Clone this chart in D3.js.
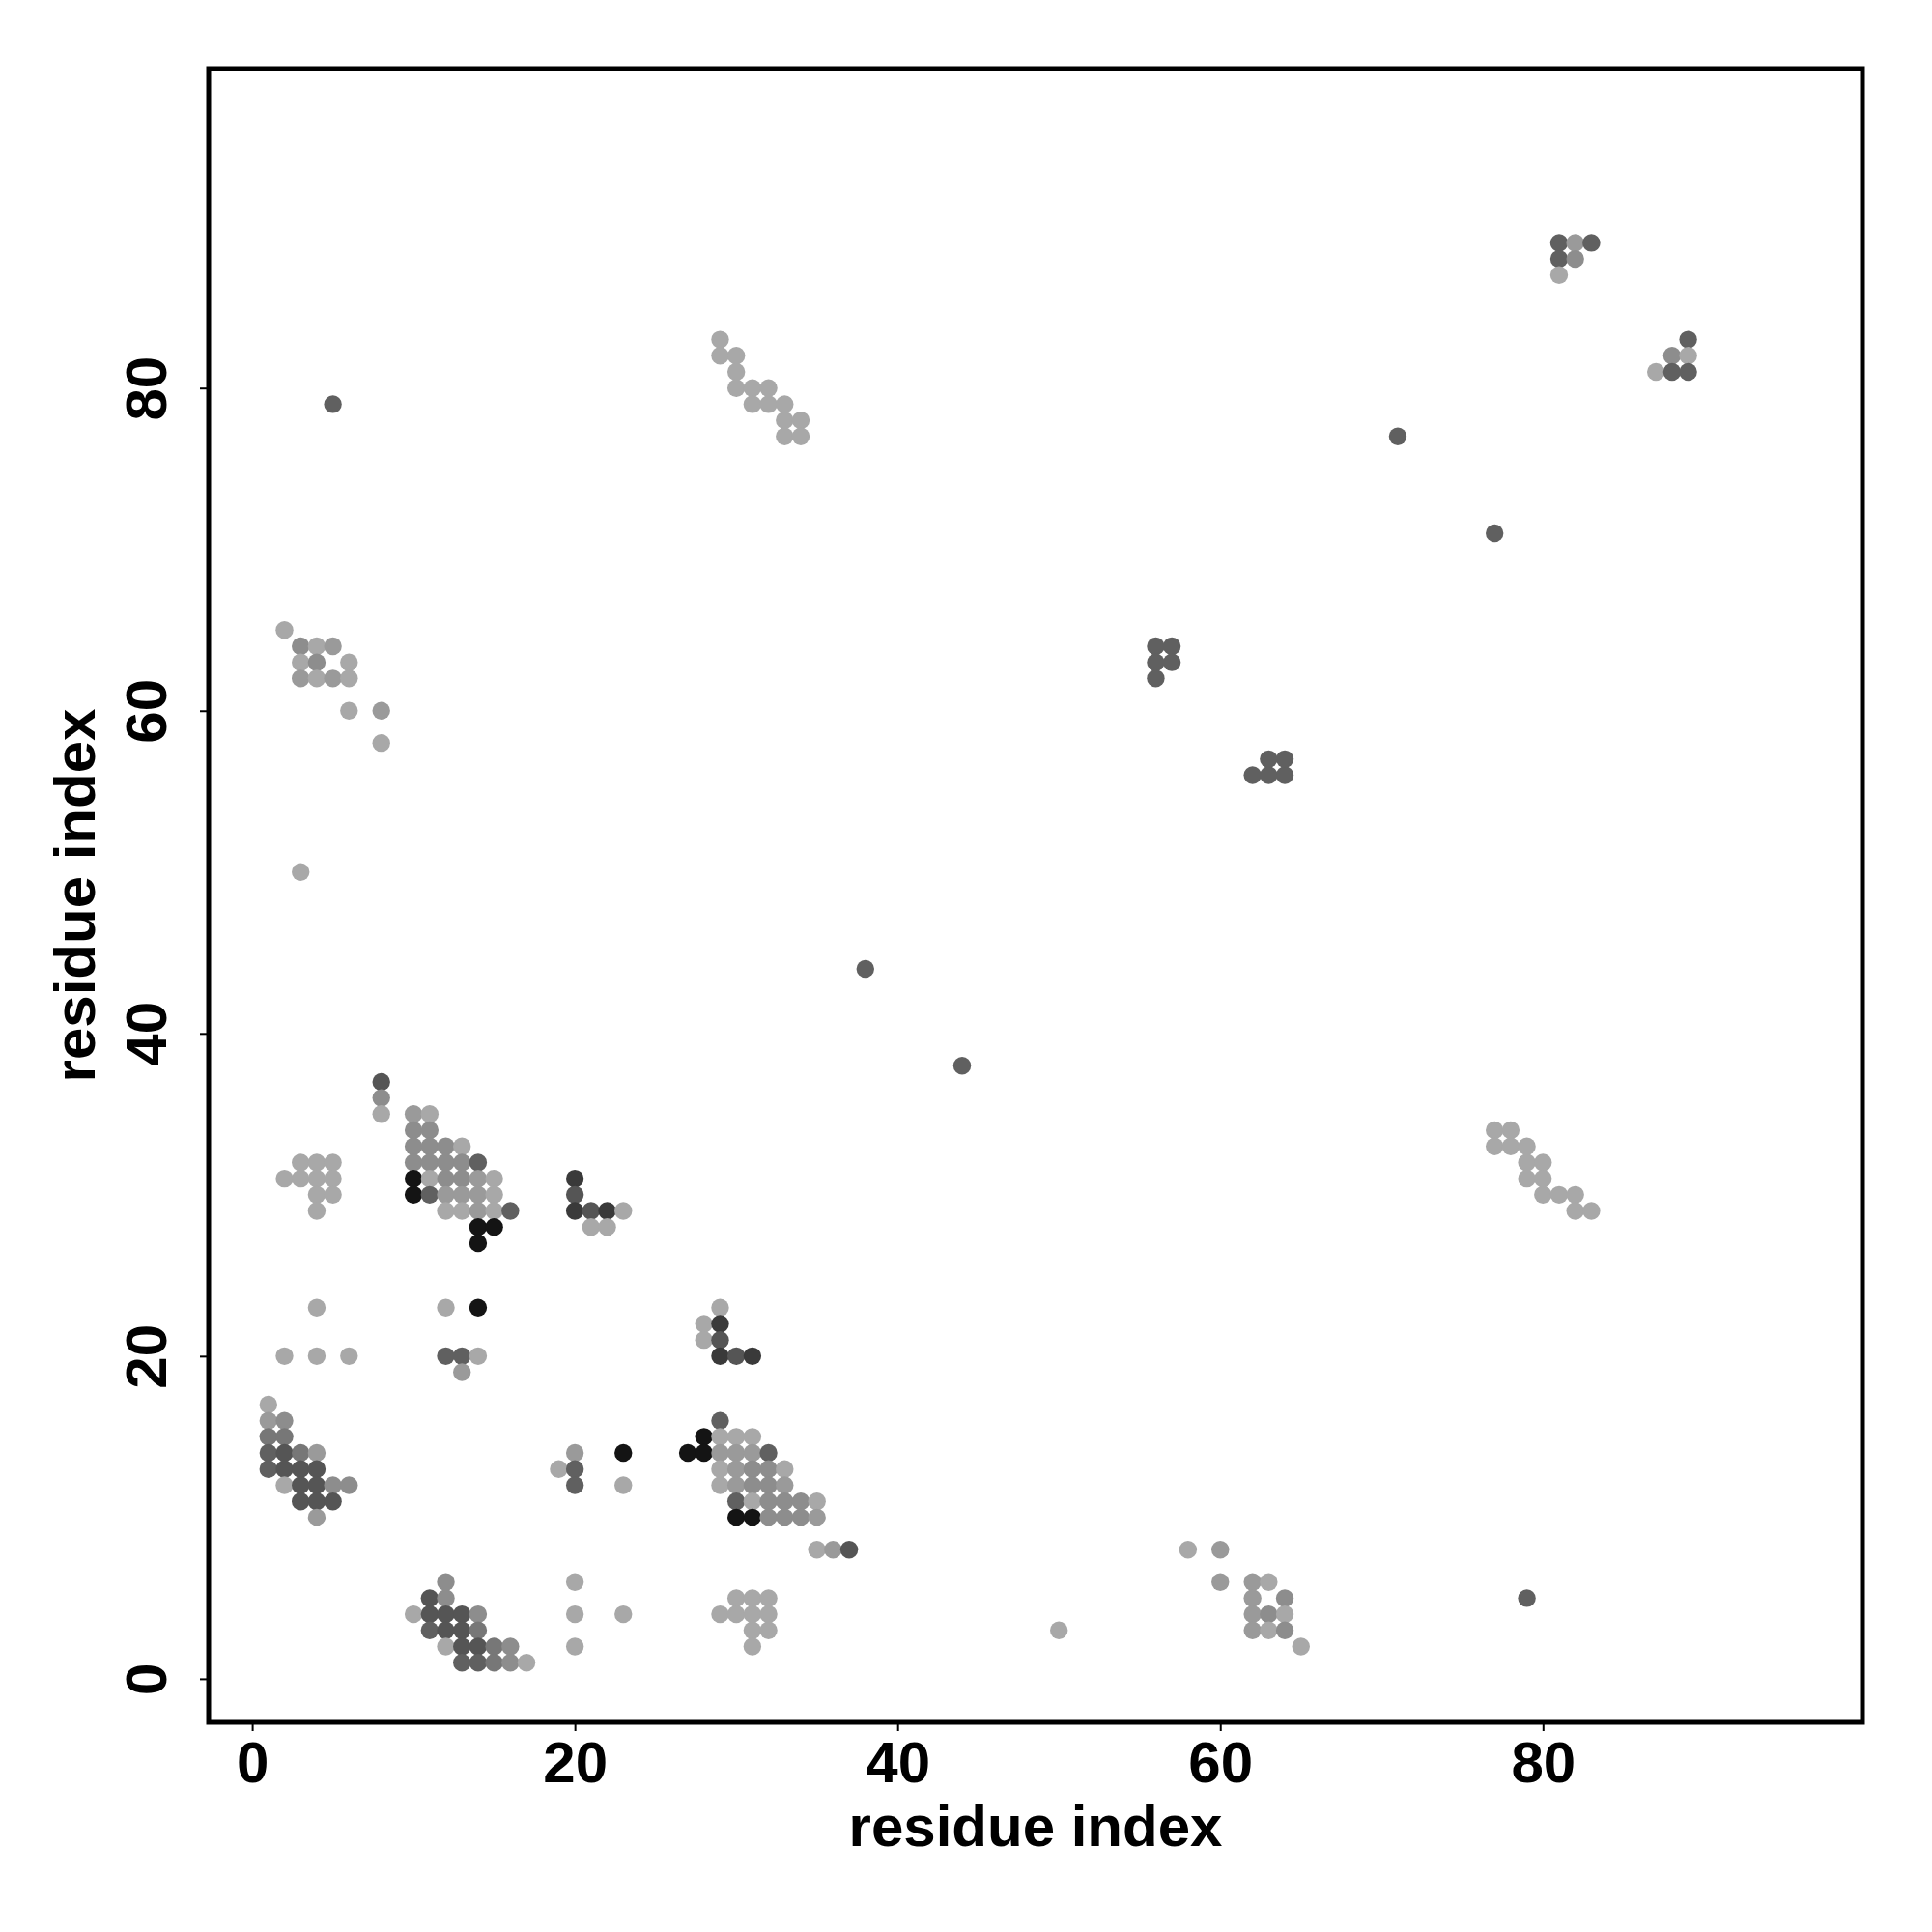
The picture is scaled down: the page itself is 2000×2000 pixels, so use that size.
<!DOCTYPE html>
<html lang="en">
<head>
  <meta charset="UTF-8">
  <title>Contact map</title>
  <style>
  body {
    margin: 0;
    background: white;
  }
  svg text {
    font-family: "Liberation Sans", Arial, Helvetica, sans-serif;
    font-weight: bold;
    fill: black;
  }
  </style>
</head>
<body>
  <script src="https://d3js.org/d3.v7.min.js"></script>
  <script>

  // contact positions (residue i, residue j) and how many times each was seen
  var contactX = [
    1, 1, 2, 1, 2, 1, 2, 3, 4, 1, 2, 3, 4, 2, 3, 4, 5, 6, 3, 4, 5, 4,
    12, 11, 12, 10, 11, 12, 13, 14, 11, 12, 13, 14, 12, 13, 14, 15, 16, 13, 14, 15, 16, 17,
    20, 19, 20, 20, 23, 23, 29, 28, 29, 30, 31, 27, 28, 29, 30, 31, 32,
    29, 30, 31, 32, 33, 29, 30, 31, 32, 33, 30, 31, 32, 33, 34, 35, 30, 31, 32, 33, 34, 35,
    35, 36, 37, 20, 30, 31, 32, 20, 23, 29, 30, 31, 32, 31, 32, 20, 31,
    8, 8, 8, 10, 11, 10, 11, 10, 11, 12, 13,
    3, 4, 5, 10, 11, 12, 13, 14,
    2, 3, 4, 5, 10, 11, 12, 13, 14, 15,
    4, 5, 10, 11, 12, 13, 14, 15,
    4, 12, 13, 14, 15, 16, 14, 15, 14,
    4, 12, 14, 2, 4, 6, 12, 13, 14, 13,
    20, 20, 20, 21, 22, 23, 21, 22, 29, 28, 29, 28, 29, 29, 30, 31,
    2, 3, 4, 5, 3, 4, 6, 3, 4, 5, 6, 6, 8, 8, 3,
    29, 29, 30, 30, 30, 31, 32, 31, 32, 33, 33, 34, 33, 34,
    77, 78, 77, 78, 79, 79, 80, 79, 80, 80, 81, 82, 82, 83,
    81, 82, 83, 81, 82, 81, 89, 88, 89, 87, 88, 89,
    58, 60, 60, 62, 63, 62, 64, 62, 63, 64, 62, 63, 64, 65,
    56, 57, 56, 57, 56, 62, 63, 64, 63, 64,
    5, 38, 44, 71, 77, 79, 50
  ];
  var contactY = [
    17, 16, 16, 15, 15, 14, 14, 14, 14, 13, 13, 13, 13, 12, 12, 12, 12, 12, 11, 11, 11, 10,
    6, 5, 5, 4, 4, 4, 4, 4, 3, 3, 3, 3, 2, 2, 2, 2, 2, 1, 1, 1, 1, 1,
    14, 13, 13, 12, 14, 12, 16, 15, 15, 15, 15, 14, 14, 14, 14, 14, 14,
    13, 13, 13, 13, 13, 12, 12, 12, 12, 12, 11, 11, 11, 11, 11, 11, 10, 10, 10, 10, 10, 10,
    8, 8, 8, 6, 5, 5, 5, 4, 4, 4, 4, 4, 4, 3, 3, 2, 2,
    37, 36, 35, 35, 35, 34, 34, 33, 33, 33, 33,
    32, 32, 32, 32, 32, 32, 32, 32,
    31, 31, 31, 31, 31, 31, 31, 31, 31, 31,
    30, 30, 30, 30, 30, 30, 30, 30,
    29, 29, 29, 29, 29, 29, 28, 28, 27,
    23, 23, 23, 20, 20, 20, 20, 20, 20, 19,
    31, 30, 29, 29, 29, 29, 28, 28, 23, 22, 22, 21, 21, 20, 20, 20,
    65, 64, 64, 64, 63, 63, 63, 62, 62, 62, 62, 60, 60, 58, 50,
    83, 82, 82, 81, 80, 80, 80, 79, 79, 79, 78, 78, 77, 77,
    34, 34, 33, 33, 33, 32, 32, 31, 31, 30, 30, 30, 29, 29,
    89, 89, 89, 88, 88, 87, 83, 82, 82, 81, 81, 81,
    8, 8, 6, 6, 6, 5, 5, 4, 4, 4, 3, 3, 3, 2,
    64, 64, 63, 63, 62, 56, 56, 56, 57, 57,
    79, 44, 38, 77, 71, 5, 3
  ];
  var contactCount = [
    1, 2, 3, 4, 4, 5, 6, 4, 2, 5, 6, 6, 6, 1, 6, 6, 3, 3, 6, 6, 6, 2,
    3, 6, 3, 1, 6, 6, 6, 3, 5, 6, 6, 4, 1, 6, 6, 4, 3, 5, 5, 4, 3, 1,
    2, 1, 5, 5, 8, 1, 5, 8, 1, 1, 1, 8, 8, 2, 2, 2, 5,
    1, 2, 3, 3, 1, 1, 2, 3, 3, 2, 5, 1, 3, 3, 3, 1, 8, 8, 3, 3, 3, 2,
    1, 2, 6, 1, 1, 1, 1, 1, 1, 1, 1, 1, 1, 1, 1, 1, 1,
    6, 3, 1, 2, 1, 3, 3, 3, 3, 3, 1,
    1, 1, 1, 3, 3, 3, 3, 5,
    1, 1, 1, 1, 8, 1, 3, 3, 2, 1,
    1, 1, 8, 5, 2, 2, 2, 1,
    1, 1, 1, 2, 1, 5, 8, 8, 8,
    1, 1, 8, 1, 1, 1, 5, 5, 1, 2,
    7, 6, 7, 6, 7, 1, 1, 1, 1, 1, 7, 1, 6, 7, 6, 7,
    1, 3, 1, 2, 1, 3, 1, 2, 1, 2, 1, 1, 2, 1, 1,
    1, 1, 1, 1, 1, 1, 1, 1, 1, 1, 1, 1, 1, 1,
    1, 1, 1, 1, 1, 1, 1, 1, 1, 1, 1, 1, 1, 1,
    5, 2, 5, 5, 3, 1, 5, 3, 1, 1, 5, 5,
    1, 2, 2, 2, 1, 2, 3, 2, 3, 1, 2, 1, 3, 1,
    5, 5, 5, 5, 5, 5, 5, 5, 5, 5,
    5, 5, 5, 5, 5, 5, 1
  ];
  var tickValues = [0, 20, 40, 60, 80];

  var width = 2000;
  var height = 2000;
  var box = { left: 216, right: 1928, top: 71, bottom: 1783 };

  var svg = d3.select('body').append('svg')
              .attr('width', width)
              .attr('height', height);

  var x = d3.scaleLinear().domain([-2.7, 99.8]).range([box.left, box.right]);
  var y = d3.scaleLinear().domain([-2.7, 99.8]).range([box.bottom, box.top]);
  var shade = d3.scaleOrdinal()
                .domain([1, 2, 3, 4, 5, 6, 7, 8])
                .range(['#a8a8a8', '#9a9a9a', '#8d8d8d', '#777777', '#606060', '#555555', '#3a3a3a', '#141414']);

  var points = contactX.map(function (d, i) {
    return { x: d, y: contactY[i], n: contactCount[i] };
  });

  svg.append('g')
     .selectAll('circle')
     .data(points)
     .enter()
     .append('circle')
     .attr('cx', function (d) { return x(d.x); })
     .attr('cy', function (d) { return y(d.y); })
     .attr('r', 9.2)
     .attr('fill', function (d) { return shade(d.n); });

  var xAxis = svg.append('g')
                 .attr('transform', 'translate(0,' + (box.bottom + 2) + ')')
                 .call(d3.axisBottom(x).tickValues(tickValues).tickSize(7).tickPadding(10));
  xAxis.select('.domain').remove();
  xAxis.selectAll('line').attr('stroke-width', 2);
  xAxis.selectAll('text').style('font-size', '60px').attr('dy', '0.72em');

  var yAxis = svg.append('g')
                 .attr('transform', 'translate(' + (box.left - 2) + ',0)')
                 .call(d3.axisLeft(y).tickValues(tickValues).tickSize(7).tickPadding(10));
  yAxis.select('.domain').remove();
  yAxis.selectAll('line').attr('stroke-width', 2);
  yAxis.selectAll('text')
       .style('font-size', '60px')
       .attr('x', null)
       .attr('dy', null)
       .attr('text-anchor', 'middle')
       .attr('transform', function (d) { return 'translate(-42,' + y(d) + ') rotate(-90)'; })
       .attr('y', 0);
  // axisLeft puts text at the tick position through the tick group, undo that offset
  yAxis.selectAll('.tick').each(function (d) {
    d3.select(this).select('text')
      .attr('transform', 'translate(-42,0) rotate(-90)');
  });

  svg.append('rect')
     .attr('x', box.left)
     .attr('y', box.top)
     .attr('width', box.right - box.left)
     .attr('height', box.bottom - box.top)
     .attr('fill', 'none')
     .attr('stroke', 'black')
     .attr('stroke-width', 5);

  svg.append('text')
     .attr('x', (box.left + box.right) / 2)
     .attr('y', 1911)
     .attr('text-anchor', 'middle')
     .style('font-size', '60px')
     .text('residue index');

  svg.append('text')
     .attr('transform', 'translate(98,' + (box.top + box.bottom) / 2 + ') rotate(-90)')
     .attr('text-anchor', 'middle')
     .style('font-size', '60px')
     .text('residue index');
  </script>
</body>
</html>
